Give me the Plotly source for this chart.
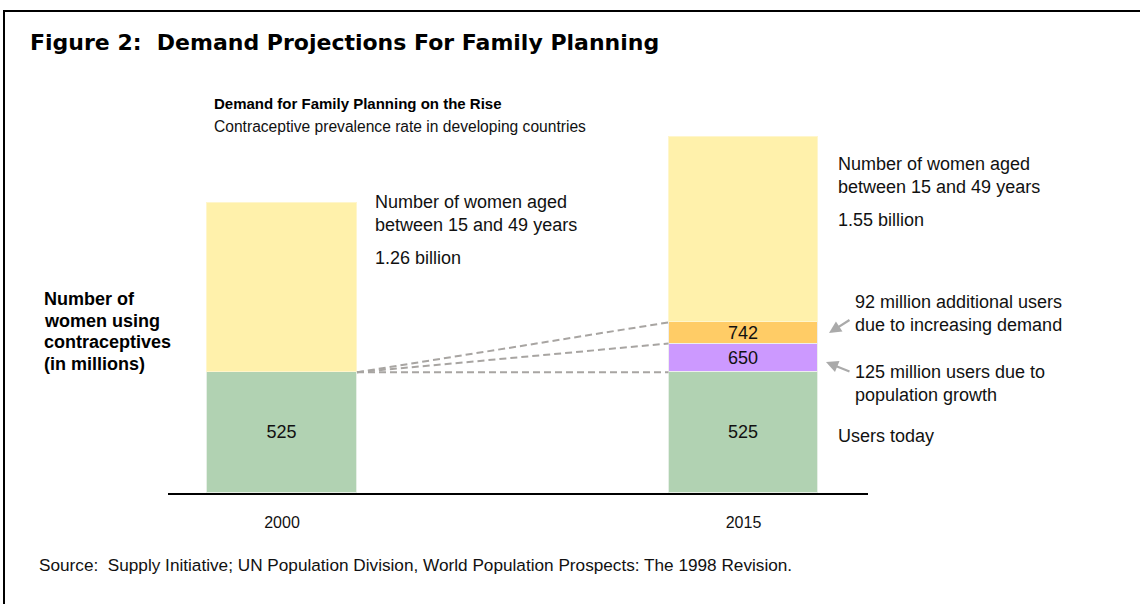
import plotly.graph_objects as go

# ---- data (millions of women) ----
years = ["2000", "2015"]
users_today = [525, 525]
growth_users = [0, 125]        # added through population growth
demand_users = [0, 92]         # added through increasing demand
women_15_49 = [1260, 1550]     # all women aged 15-49
women_labels = ["1.26 billion", "1.55 billion"]

cum_growth = [a + b for a, b in zip(users_today, growth_users)]
cum_demand = [a + b for a, b in zip(cum_growth, demand_users)]
non_users = [t - c for t, c in zip(women_15_49, cum_demand)]

W, H = 1140, 604
L, R, T, B = 168, 868, 93, 493          # plot area in pixels
Y_MAX = (B - T) / 0.23                  # vertical scale: 0.23 px per million
BAR_W = 0.325


def px(x):
    return (x - L) / (R - L)


def py(y):
    return (B - y) / (B - T)


FONT = "Liberation Sans, Arial, sans-serif"
TXT = "#111111"

fig = go.Figure()
fig.add_bar(x=years, y=users_today, width=BAR_W, marker_color="#B1D2B2",
            marker_line=dict(color="#e6efe6", width=1),
            text=[str(v) for v in users_today], textposition="inside",
            insidetextanchor="middle", textfont=dict(size=18, color=TXT, family=FONT))
fig.add_bar(x=years, y=growth_users, width=BAR_W, marker_color="#CC99FF",
            marker_line=dict(color="#eeeeee", width=1),
            text=[str(c) if g else "" for c, g in zip(cum_growth, growth_users)],
            textposition="inside", insidetextanchor="middle",
            textfont=dict(size=18, color=TXT, family=FONT))
fig.add_bar(x=years, y=demand_users, width=BAR_W, marker_color="#FFCC66",
            marker_line=dict(color="#eeeeee", width=1),
            text=[str(c) if d else "" for c, d in zip(cum_demand, demand_users)],
            textposition="inside", insidetextanchor="middle",
            textfont=dict(size=18, color=TXT, family=FONT))
fig.add_bar(x=years, y=non_users, width=BAR_W, marker_color="#FFF1AB",
            marker_line=dict(color="#fff6cc", width=1), hoverinfo="skip")

shapes = []
# dashed connectors from 2000 users to the 2015 segments
for yv in (cum_demand[1], cum_growth[1], users_today[1]):
    shapes.append(dict(type="line", xref="x", yref="y",
                       x0=0 + BAR_W / 2, y0=users_today[0],
                       x1=1 - BAR_W / 2, y1=yv,
                       line=dict(color="#a8a5a2", width=2, dash="7px,4px")))
# outer frame
shapes.append(dict(type="rect", xref="paper", yref="paper",
                   x0=px(4), x1=px(W + 10), y0=py(11), y1=py(H + 10),
                   line=dict(color="black", width=2), layer="below"))

ann = []


def text(x, y, s, size=18, bold=False, anchor="left", family=FONT, color=TXT):
    ann.append(dict(x=px(x), y=py(y), xref="paper", yref="paper", text=s,
                    showarrow=False, xanchor=anchor, yanchor="middle",
                    font=dict(size=size, family=family, color=color,
                              weight="bold" if bold else "normal")))


text(28, 42, "Figure 2:  Demand Projections For Family Planning", size=22, bold=True,
     family="DejaVu Sans, Arial Black, sans-serif", color="black")
text(212, 104, "Demand for Family Planning on the Rise", size=15, bold=True,
     color="black")
text(212, 127, "Contraceptive prevalence rate in developing countries", size=15.6)

for i, line in enumerate(["Number of", "women using", "contraceptives", "(in millions)"]):
    text(42, 299 + i * 21.7, line, size=18, bold=True, color="black")

text(373, 202, "Number of women aged")
text(373, 225, "between 15 and 49 years")
text(373, 258, women_labels[0])
text(836, 164, "Number of women aged")
text(836, 187, "between 15 and 49 years")
text(836, 220, women_labels[1])
text(853, 302, f"{demand_users[1]} million additional users")
text(853, 325, "due to increasing demand")
text(853, 372, f"{growth_users[1]} million users due to")
text(853, 395, "population growth")
text(836, 436, "Users today")
text(37, 565, "Source:  Supply Initiative; UN Population Division, "
              "World Population Prospects: The 1998 Revision.", size=17.2)

# pointer arrows
for (hx, hy), (tx, ty) in [((829, 333), (851, 319)), ((826, 362), (851, 372))]:
    ann.append(dict(x=px(hx), y=py(hy), xref="paper", yref="paper", text="",
                    showarrow=True, ax=tx - hx, ay=ty - hy, arrowhead=2,
                    arrowsize=1.1, arrowwidth=2.2, arrowcolor="#aaaaaa"))

fig.update_layout(
    width=W, height=H, barmode="stack", showlegend=False, bargap=0,
    paper_bgcolor="white", plot_bgcolor="white",
    margin=dict(l=L, r=W - R, t=T, b=H - B, pad=0),
    font=dict(family=FONT, color=TXT),
    uniformtext=dict(minsize=18, mode="show"),
    shapes=shapes, annotations=ann,
    xaxis=dict(type="category", range=[(L - 282) / 461.5, (R - 282) / 461.5],
               showline=True, linecolor="black", linewidth=1.5, ticks="",
               showgrid=False, zeroline=False, tickfont=dict(size=16, color=TXT),
               ticklabelstandoff=14),
    yaxis=dict(range=[0, Y_MAX], visible=False, showgrid=False),
)

fig.write_html("out.html")
